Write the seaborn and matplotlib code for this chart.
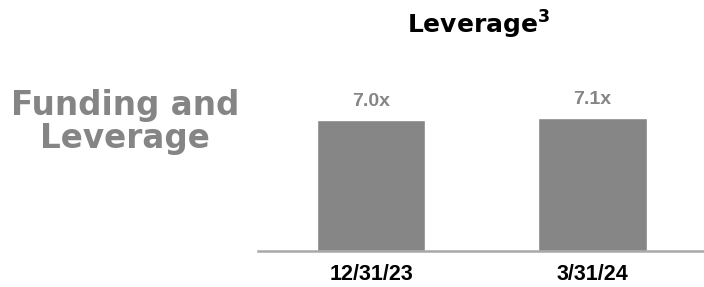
import matplotlib
matplotlib.use("Agg")
import matplotlib.pyplot as plt
import seaborn as sns
import pandas as pd

# ── Data ───────────────────────────────────────────────
dates = ["12/31/23", "3/31/24"]
leverage = [7.0, 7.1]
value_labels = ["7.0x", "7.1x"]
side_title = ["Funding and", "Leverage"]

df = pd.DataFrame({"Date": dates, "Leverage": leverage})

# ── Setup ──────────────────────────────────────────────
sns.set_theme(style="white")
plt.rcParams["mathtext.fontset"] = "dejavusans"

fig = plt.figure(figsize=(7.04, 2.87), dpi=100)
ax = fig.add_axes([0.3665, 0.1254, 0.6335, 0.6655])

sns.barplot(data=df, x="Date", y="Leverage", color="#868686",
            width=0.49, saturation=1, ax=ax)

ax.set_xlim(-0.51, 1.503)
ax.set_ylim(0, 10.21)
ax.bar_label(ax.containers[0], labels=value_labels, padding=7,
             fontsize=14, fontweight="bold", color="#858585",
             family="Liberation Sans")

for side in ["top", "right", "left"]:
    ax.spines[side].set_visible(False)
ax.spines["bottom"].set_color("#a8a8a8")
ax.spines["bottom"].set_linewidth(1.8)
ax.set_yticks([])
ax.set_xlabel("")
ax.set_ylabel("")
ax.tick_params(axis="x", length=0, pad=9)
for lbl in ax.get_xticklabels():
    lbl.set_fontsize(15.5)
    lbl.set_fontweight("bold")
    lbl.set_family("Liberation Sans")
    lbl.set_color("black")

# ── Titles ─────────────────────────────────────────────
fig.text(0.68, 1 - 34 / 287, r"Leverage$^{\mathbf{3}}$", ha="center",
         va="baseline", fontsize=18, fontweight="bold", color="black")
for line, base in zip(side_title, [115, 148]):
    fig.text(0.178, 1 - base / 287, line, ha="center", va="baseline",
             fontsize=23.5, fontweight="bold", color="#858585")

fig.savefig("out.png", dpi=100)
